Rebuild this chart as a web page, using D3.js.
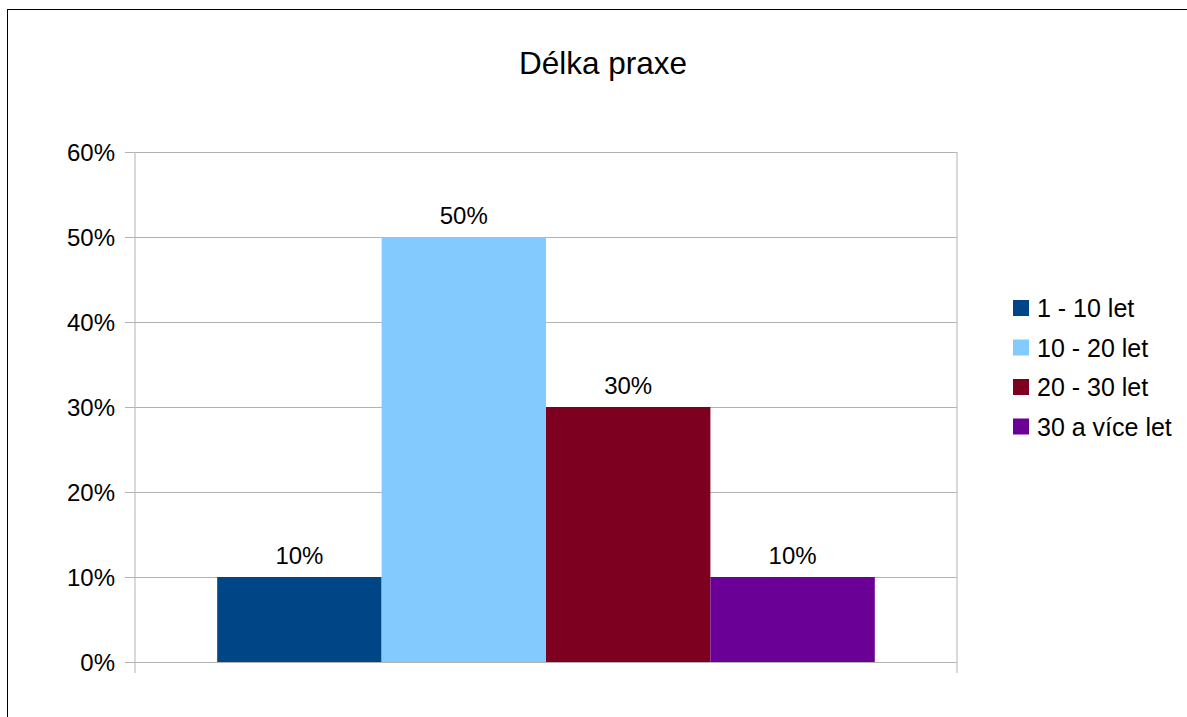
<!DOCTYPE html>
<html><head><meta charset="utf-8">
<script src="https://cdn.jsdelivr.net/npm/d3@7"></script>
<style>body{margin:0;background:#fff}svg{display:block}</style>
</head><body>
<svg id="c" width="1187" height="717"></svg>
<script>
const title = "Délka praxe";
const categories = ["1 - 10 let", "10 - 20 let", "20 - 30 let", "30 a více let"];
const values = [0.10, 0.50, 0.30, 0.10];
const colors = ["#004586", "#83caff", "#7e0021", "#6b0096"];
const yTicks = [0, 0.1, 0.2, 0.3, 0.4, 0.5, 0.6];

const svg = d3.select("#c");
const font = "Liberation Sans, Arial, sans-serif";
const L = 135, R = 957, T = 152, B = 662;

svg.append("rect").attr("x", 7.5).attr("y", 9.5).attr("width", 1200).attr("height", 720)
  .attr("fill", "none").attr("stroke", "#000").attr("stroke-width", 1);

const y = d3.scaleLinear().domain([0, 0.6]).range([B, T]);
const groupW = (R - L) * 0.8;
const x = d3.scaleBand().domain(categories).range([(L + R) / 2 - groupW / 2, (L + R) / 2 + groupW / 2]).padding(0);

const yAxis = d3.axisLeft(y).tickValues(yTicks).tickSize(10).tickFormat(d3.format(".0%"));
const ga = svg.append("g").attr("transform", `translate(${L},0)`).call(yAxis);
ga.select(".domain").remove();
ga.selectAll(".tick line").attr("stroke", "#b3b3b3").attr("x1", -10).attr("x2", R - L);
ga.selectAll(".tick text").attr("font-family", font).attr("font-size", 24).attr("fill", "#000")
  .attr("x", -20).attr("dy", "0.35em");

svg.append("line").attr("x1", L).attr("x2", L).attr("y1", T).attr("y2", B + 11).attr("stroke", "#b3b3b3");
svg.append("line").attr("x1", R).attr("x2", R).attr("y1", T).attr("y2", B + 11).attr("stroke", "#b3b3b3");

svg.selectAll("rect.bar").data(values).join("rect").attr("class", "bar")
  .attr("x", (d, i) => x(categories[i])).attr("width", x.bandwidth())
  .attr("y", d => y(d)).attr("height", d => B - y(d))
  .attr("fill", (d, i) => colors[i]);

svg.selectAll("text.val").data(values).join("text").attr("class", "val")
  .attr("x", (d, i) => x(categories[i]) + x.bandwidth() / 2)
  .attr("y", d => y(d) - 13)
  .attr("text-anchor", "middle").attr("font-family", font).attr("font-size", 24)
  .text(d => d3.format(".0%")(d));

svg.append("text").attr("x", 603).attr("y", 74).attr("text-anchor", "middle")
  .attr("font-family", font).attr("font-size", 31.5).text(title);

const lg = svg.append("g");
categories.forEach((c, i) => {
  const yy = 300 + i * 39.5;
  lg.append("rect").attr("x", 1013).attr("y", yy).attr("width", 16).attr("height", 16).attr("fill", colors[i]);
  lg.append("text").attr("x", 1037).attr("y", yy + 17).attr("font-family", font).attr("font-size", 25).text(c);
});
</script>
</body></html>
